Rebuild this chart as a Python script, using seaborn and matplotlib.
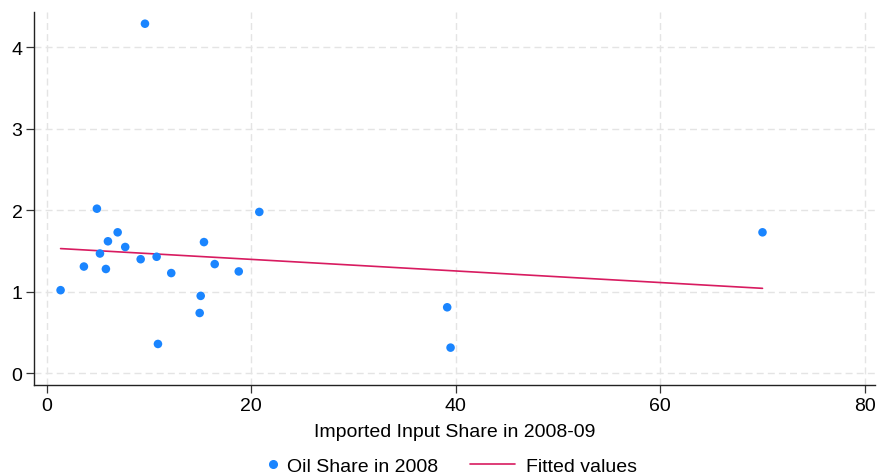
import numpy as np
import pandas as pd
import seaborn as sns
import matplotlib
matplotlib.use("Agg")
import matplotlib.pyplot as plt
from matplotlib.lines import Line2D

imported_share = [1.37, 3.65, 4.92, 5.22, 5.80, 6.0, 6.95, 7.69, 9.2, 9.62, 10.76,
                  10.89, 12.19, 14.97, 15.07, 15.39, 16.44, 18.79, 20.8, 39.17, 39.5, 70.0]
oil_share = [1.02, 1.31, 2.02, 1.47, 1.28, 1.62, 1.73, 1.55, 1.40, 4.29, 1.43,
             0.36, 1.23, 0.74, 0.95, 1.61, 1.34, 1.25, 1.98, 0.81, 0.315, 1.73]
x_ticks = [0, 20, 40, 60, 80]
y_ticks = [0, 1, 2, 3, 4]

df = pd.DataFrame({"x": imported_share, "y": oil_share})
slope, intercept = np.polyfit(df["x"], df["y"], 1)
xs = np.array([df["x"].min(), df["x"].max()])
fit = pd.DataFrame({"x": xs, "y": intercept + slope * xs})

sns.set_theme(style="white")
plt.rcParams['font.family'] = ['Liberation Sans', 'DejaVu Sans']
plt.rcParams['text.color'] = 'black'
plt.rcParams['axes.labelcolor'] = 'black'
plt.rcParams['xtick.color'] = 'black'
plt.rcParams['ytick.color'] = 'black'

fig = plt.figure(figsize=(8.78, 4.77), dpi=100)
ax = fig.add_axes([34.3/878, 1 - 385.7/477, (875-34.3)/878, (385.7-13.3)/477])

blue = "#1a85ff"
red = "#d81b60"
sns.scatterplot(data=df, x="x", y="y", ax=ax, color=blue, s=38, edgecolor="none", zorder=3)
sns.lineplot(data=fit, x="x", y="y", ax=ax, color=red, linewidth=1.2, zorder=2)

ax.set_xlim(-1.2, 81.0)
ax.set_ylim(-0.14, 4.43)
ax.set_xticks(x_ticks)
ax.set_yticks(y_ticks)
ax.set_xticklabels([str(t) for t in x_ticks])
ax.set_yticklabels([str(t) for t in y_ticks])
ax.tick_params(axis="both", labelsize=14, length=5.5, width=0.9, color="#333333",
               labelcolor="black", direction="out", bottom=True, left=True, pad=3)
ax.grid(True, color="#e4e4e4", linestyle=(0, (5, 3)), linewidth=1.0)
for side in ["top", "right"]:
    ax.spines[side].set_visible(False)
for side in ["left", "bottom"]:
    ax.spines[side].set_color("#222222")
    ax.spines[side].set_linewidth(1.0)
ax.set_xlabel("Imported Input Share in 2008-09", fontsize=14, labelpad=6.5, color="black")
ax.set_ylabel("")

h1 = [Line2D([], [], marker="o", linestyle="none", color=blue, markersize=5.5)]
h2 = [Line2D([], [], color=red, linewidth=1.2)]
fig.legend(h1, ["Oil Share in 2008"], loc="center left",
           bbox_to_anchor=(265/878, 1 - 467/477), frameon=False, fontsize=14,
           handlelength=0.8, handletextpad=0.35, borderpad=0, borderaxespad=0)
fig.legend(h2, ["Fitted values"], loc="center left",
           bbox_to_anchor=(470/878, 1 - 467/477), frameon=False, fontsize=14,
           handlelength=2.3, handletextpad=0.6, borderpad=0, borderaxespad=0)

fig.savefig("out.png", dpi=100)
